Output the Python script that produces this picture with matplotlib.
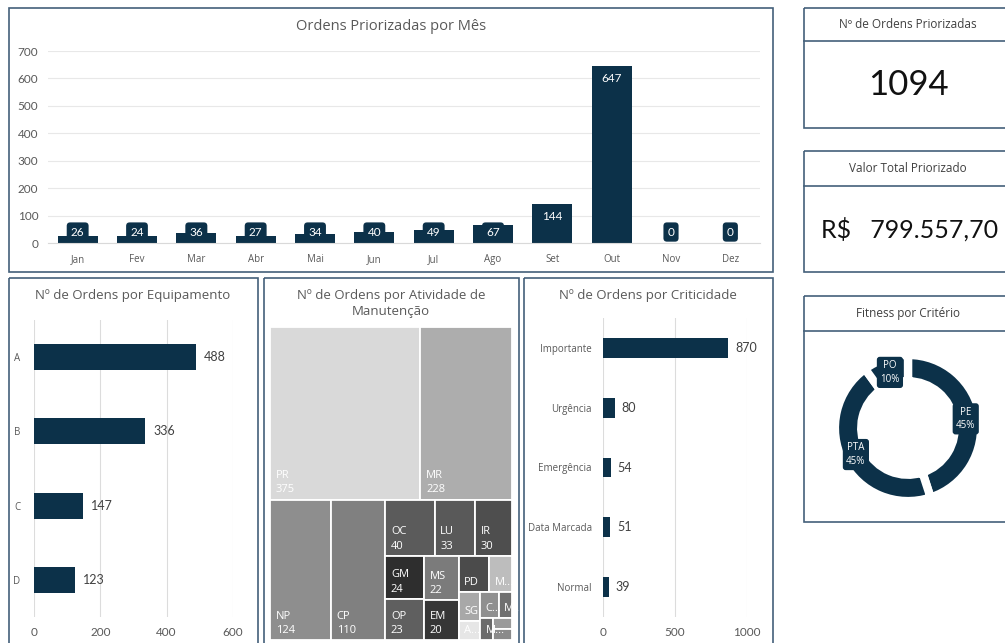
import numpy as np
import matplotlib
matplotlib.use("Agg")
import matplotlib.pyplot as plt
from matplotlib.patches import Rectangle

# Ordens priorizadas por mês
meses = ["Jan", "Fev", "Mar", "Abr", "Mai", "Jun", "Jul", "Ago", "Set", "Out", "Nov", "Dez"]
ordens_mes = [26, 24, 36, 27, 34, 40, 49, 67, 144, 647, 0, 0]

# Ordens por equipamento
equipamentos = ["A", "B", "C", "D"]
ordens_equip = [488, 336, 147, 123]

# Ordens por criticidade
criticidades = ["Importante", "Urgência", "Emergência", "Data Marcada", "Normal"]
ordens_crit = [870, 80, 54, 51, 39]

# Ordens por atividade de manutenção (treemap)
atividades = ["PR", "MR", "NP", "CP", "OC", "LU", "IR", "GM", "OP", "MS", "EM",
              "PD", "M...", "SG", "A...", "C...", "M...", "M...", "I...", ""]
ordens_ativ = [375, 228, 124, 110, 40, 33, 30, 24, 23, 22, 20,
               16, 12, 9, 6, 7, 5, 4, 3, 3]

# Fitness por critério (%)
criterios = ["PE", "PTA", "PO"]
fitness = [45, 45, 10]

valor_total = 799557.70

plt.rcParams["font.family"] = ["Open Sans", "DejaVu Sans"]

W, H = 1005, 643
navy = "#0c3149"
cinza = "#595959"
borda = "#44607a"

fig = plt.figure(figsize=(W / 100, H / 100), dpi=100)


def px_axes(x0, y0, x1, y1):
    ax = fig.add_axes([x0 / W, 1 - y1 / H, (x1 - x0) / W, (y1 - y0) / H])
    ax.set_facecolor("none")
    return ax


# camada de fundo com as molduras dos painéis
bg = px_axes(0, 0, W, H)
bg.set_xlim(0, W)
bg.set_ylim(H, 0)
bg.axis("off")

for x0, y0, x1, y1 in [(9, 8, 773, 272), (9, 278, 258, 660), (264, 278, 519, 660),
                       (524, 278, 773, 660), (804, 8, 1015, 128), (804, 151, 1015, 272),
                       (804, 296, 1015, 522)]:
    bg.add_patch(Rectangle((x0, y0), x1 - x0, y1 - y0, fill=False, ec=borda, lw=1.2))
for yd in [41, 186, 331]:
    bg.plot([804, 1015], [yd, yd], color=borda, lw=1.2)

bg.text(391, 26, "Ordens Priorizadas por Mês", ha="center", va="center", fontsize=10.5, color=cinza)
bg.text(133, 296, "Nº de Ordens por Equipamento", ha="center", va="center", fontsize=9.5, color=cinza)
bg.text(391, 303, "Nº de Ordens por Atividade de\nManutenção", ha="center", va="center",
        fontsize=9.5, color=cinza, linespacing=1.3)
bg.text(648, 296, "Nº de Ordens por Criticidade", ha="center", va="center", fontsize=9.5, color=cinza)

bg.text(908, 24, "Nº de Ordens Priorizadas", ha="center", va="center", fontsize=8.5, color="#404040")
bg.text(908, 85, str(sum(ordens_mes)), ha="center", va="center", fontsize=25,
        family=["Lato", "DejaVu Sans"], color="#111111")
valor_fmt = f"{valor_total:,.2f}".replace(",", "X").replace(".", ",").replace("X", ".")
bg.text(908, 169, "Valor Total Priorizado", ha="center", va="center", fontsize=8.5, color="#404040")
bg.text(910, 229, "R$   " + valor_fmt, ha="center", va="center", fontsize=18,
        family=["Lato", "DejaVu Sans"], color="#111111")
bg.text(908, 314, "Fitness por Critério", ha="center", va="center", fontsize=8.5, color="#404040")

# --- barras por mês ---
ax = px_axes(48, 51, 760, 243)
x = np.arange(len(meses))
ax.bar(x, ordens_mes, width=0.67, color=navy, zorder=2)
ax.set_xlim(-0.5, len(meses) - 0.5)
ax.set_ylim(0, 700)
ax.set_yticks(range(0, 701, 100))
ax.set_xticks(x)
ax.set_xticklabels(meses, fontsize=7, color=cinza)
ax.yaxis.grid(True, color="#e8e8e8", lw=0.8)
ax.set_axisbelow(True)
for s in ["top", "right", "left"]:
    ax.spines[s].set_visible(False)
ax.spines["bottom"].set_color("#d9d9d9")
ax.tick_params(axis="y", length=0, labelsize=8.5, labelcolor=cinza, pad=7)
ax.tick_params(axis="x", length=0, pad=8)
for lab in ax.get_yticklabels():
    lab.set_family(["Lato", "DejaVu Sans"])
for xi, v in zip(x, ordens_mes):
    ax.text(xi, max(v - 47, 40), str(v), ha="center", va="center", fontsize=8.5, color="white",
            family=["Lato", "DejaVu Sans"], zorder=3,
            bbox=dict(boxstyle="round,pad=0.35,rounding_size=0.3", fc=navy, ec="none"))

# --- barras por equipamento ---
ax2 = px_axes(34, 320, 233, 617)
y = np.arange(len(equipamentos))
ax2.barh(y, ordens_equip, height=0.35, color=navy, zorder=2)
ax2.set_ylim(len(equipamentos) - 0.5, -0.5)
ax2.set_xlim(0, 600)
ax2.set_xticks(range(0, 601, 200))
ax2.set_yticks(y)
ax2.set_yticklabels(equipamentos, fontsize=7, color=cinza)
ax2.xaxis.grid(True, color="#dcdcdc", lw=0.8)
ax2.set_axisbelow(True)
for s in ax2.spines.values():
    s.set_visible(False)
ax2.tick_params(axis="x", length=0, labelsize=8.5, labelcolor=cinza, pad=7)
ax2.tick_params(axis="y", length=0, pad=10)
for lab in ax2.get_xticklabels():
    lab.set_family(["Lato", "DejaVu Sans"])
for yi, v in zip(y, ordens_equip):
    ax2.annotate(str(v), (v, yi), xytext=(6, 0), textcoords="offset points", va="center",
                 fontsize=9, color="#404040", family=["Lato", "DejaVu Sans"])

# --- barras por criticidade ---
ax3 = px_axes(603, 318, 747, 617)
y = np.arange(len(criticidades))
ax3.barh(y, ordens_crit, height=0.33, color=navy, zorder=2)
ax3.set_ylim(len(criticidades) - 0.5, -0.5)
ax3.set_xlim(0, 1000)
ax3.set_xticks([0, 500, 1000])
ax3.set_yticks(y)
ax3.set_yticklabels(criticidades, fontsize=7, color=cinza)
ax3.xaxis.grid(True, color="#dcdcdc", lw=0.8)
ax3.set_axisbelow(True)
for s in ax3.spines.values():
    s.set_visible(False)
ax3.tick_params(axis="x", length=0, labelsize=8.5, labelcolor=cinza, pad=7)
ax3.tick_params(axis="y", length=0, pad=8)
for lab in ax3.get_xticklabels():
    lab.set_family(["Lato", "DejaVu Sans"])
for yi, v in zip(y, ordens_crit):
    ax3.annotate(str(v), (v, yi), xytext=(5, 0), textcoords="offset points", va="center",
                 fontsize=9, color="#404040", family=["Lato", "DejaVu Sans"])

# --- treemap por atividade ---
cores_ativ = ["#d9d9d9", "#adadad", "#8e8e8e", "#808080", "#5b5b5b", "#595959", "#4e4e4e",
              "#2e2e2e", "#5f5f5f", "#7b7b7b", "#363636", "#4b4b4b", "#bdbdbd", "#a8a8a8",
              "#e6e6e6", "#8f8f8f", "#6f6f6f", "#6b6b6b", "#9a9a9a", "#8a8a8a"]

# árvore de cortes: 'h' divide lado a lado, 'v' empilha
arvore = ("v", [("h", [0, 1]),
                ("h", [2, 3,
                       ("v", [("h", [4, 5, 6]),
                              ("h", [("v", [7, 8]), ("v", [9, 10]),
                                     ("v", [("h", [11, 12]),
                                            ("h", [("v", [13, 14]),
                                                   ("v", [("h", [15, 16]),
                                                          ("h", [17, ("v", [18, 19])])])])])])])])])


def soma(no):
    if isinstance(no, int):
        return ordens_ativ[no]
    return sum(soma(c) for c in no[1])


retangulos = {}


def dispor(no, x0, y0, w, h):
    if isinstance(no, int):
        retangulos[no] = (x0, y0, w, h)
        return
    direcao, filhos = no
    total = soma(no)
    pos = 0.0
    for c in filhos:
        f = soma(c) / total
        if direcao == "h":
            dispor(c, x0 + pos * w, y0, f * w, h)
        else:
            dispor(c, x0, y0 + pos * h, w, f * h)
        pos += f


dispor(arvore, 0, 0, 1, 1)

ax4 = px_axes(270, 327, 512, 640)
ax4.set_xlim(0, 1)
ax4.set_ylim(1, 0)
ax4.axis("off")
tw, th = 242, 313
for i, (x0, y0, w, h) in retangulos.items():
    ax4.add_patch(Rectangle((x0, y0), w, h, fc=cores_ativ[i], ec="white", lw=1.3))
    wpx, hpx = w * tw, h * th
    if hpx >= 40 and wpx >= 25:
        txt = f"{atividades[i]}\n{ordens_ativ[i]}"
    elif hpx >= 12 and wpx >= 10:
        txt = atividades[i]
    else:
        continue
    ax4.annotate(txt, (x0, y0 + h), xytext=(4, 3), textcoords="offset points", ha="left",
                 va="bottom", fontsize=8, color="white", linespacing=1.4)

# --- rosca fitness ---
ax5 = px_axes(813, 333, 1003, 523)
wedges, _ = ax5.pie(fitness, startangle=90, counterclock=False, colors=[navy] * len(fitness),
                    radius=1, wedgeprops=dict(width=0.36, edgecolor="white", linewidth=6))
ax5.set_xlim(-1.3, 1.3)
ax5.set_ylim(-1.3, 1.3)
ax5.set_aspect("equal")
for w, lbl, v in zip(wedges, criterios, fitness):
    ang = np.deg2rad((w.theta1 + w.theta2) / 2)
    ax5.text(0.8 * np.cos(ang), 0.8 * np.sin(ang), f"{lbl}\n{v}%", ha="center", va="center",
             fontsize=7, color="white", linespacing=1.3,
             bbox=dict(boxstyle="round,pad=0.35,rounding_size=0.3", fc=navy, ec="none"))

fig.savefig("out.png", dpi=100)
